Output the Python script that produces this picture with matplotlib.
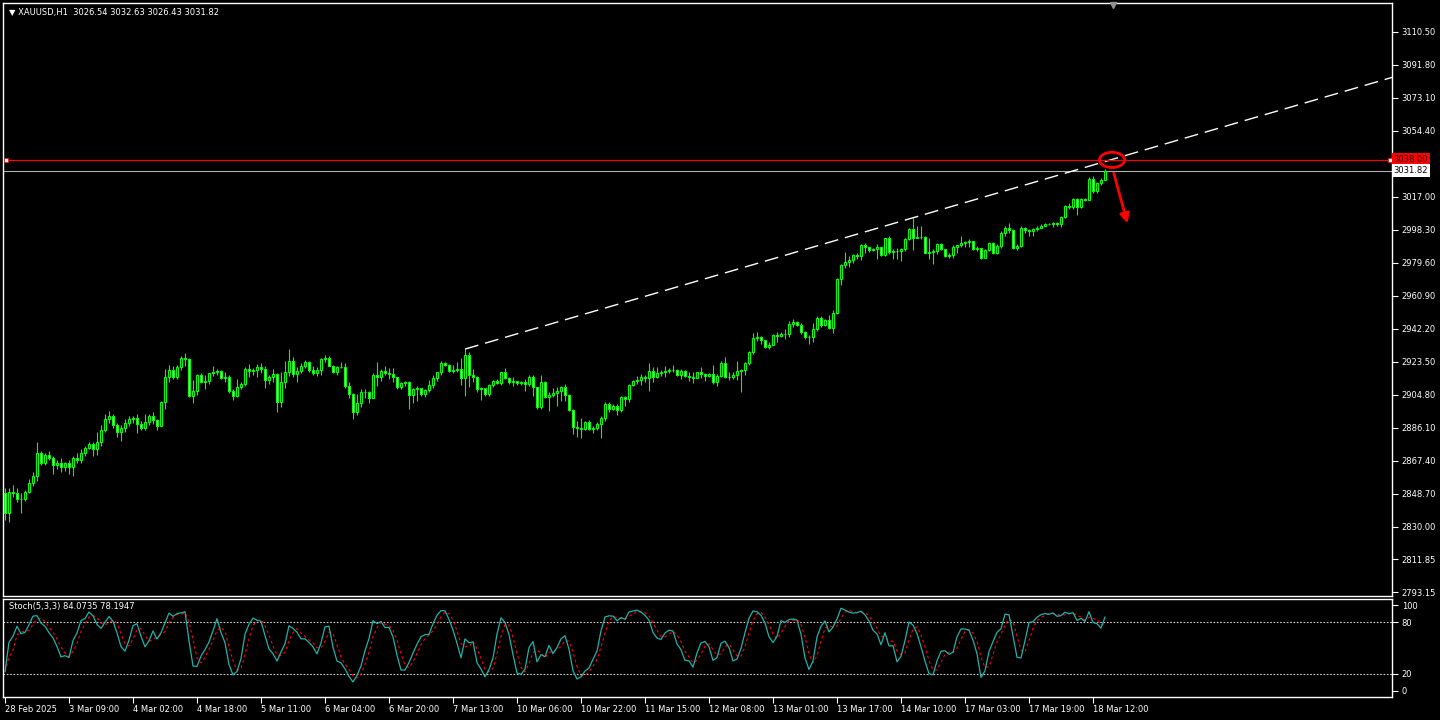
import numpy as np
import pandas as pd
import matplotlib
matplotlib.use("Agg")
import matplotlib.pyplot as plt
from matplotlib.patches import Ellipse, FancyArrowPatch
import matplotlib.transforms as mtransforms

plt.rcParams['font.family'] = ['DejaVu Sans']

symbol_title = "\u25bc XAUUSD,H1  3026.54 3032.63 3026.43 3031.82"
stoch_title = "Stoch(5,3,3) 84.0735 78.1947"

first_open = 2849.0
close = [2838, 2850, 2849, 2846, 2846, 2850, 2855, 2859, 2872, 2866,
         2871, 2869, 2865, 2866, 2864, 2866, 2864, 2869, 2868, 2872,
         2875, 2877, 2874, 2878, 2885, 2891, 2893, 2888, 2884, 2886,
         2889, 2891, 2892, 2888.5, 2886, 2889.5, 2892.8, 2890.5, 2887.5, 2901,
         2914.8, 2919, 2915.2, 2920.8, 2925.7, 2925, 2904, 2907.3, 2916, 2912,
         2912.5, 2917, 2917.7, 2918.2, 2914.5, 2915.2, 2907.3, 2904.5, 2909.5, 2911,
         2919.5, 2918.3, 2919, 2920.8, 2919.5, 2913.5, 2915, 2916.7, 2900.7, 2912.4,
         2917.6, 2924.2, 2916.7, 2918.6, 2921.4, 2923.3, 2919, 2917, 2919, 2925.2,
         2926, 2921.4, 2917.7, 2920.5, 2920.8, 2910.1, 2905.4, 2895, 2900.3, 2906.4,
         2906.7, 2903, 2916.2, 2915, 2918.6, 2917.5, 2916.5, 2914.8, 2909.2, 2911.6,
         2912.4, 2904.8, 2908.2, 2909, 2905.4, 2907.8, 2910.5, 2914.4, 2917.7, 2922.9,
         2922, 2918.2, 2919, 2919.5, 2914.3, 2927.4, 2916.1, 2915, 2908.2, 2908.6,
         2905.4, 2910.5, 2912.9, 2911.5, 2917.6, 2914.5, 2912, 2912.5, 2911.5, 2912,
         2911, 2915, 2909.2, 2897.9, 2912.4, 2903.5, 2905, 2906.2, 2907.3, 2909.2,
         2905, 2896.4, 2886.6, 2886.3, 2885.8, 2889.4, 2885.3, 2886, 2888.1, 2891.7,
         2899.8, 2896.9, 2898.8, 2896.4, 2903.5, 2902.6, 2910.5, 2912.6, 2913.4, 2914.8,
         2914.2, 2918.6, 2914.8, 2917.3, 2917.9, 2918.3, 2919, 2918.8, 2916.3, 2918.6,
         2915.8, 2915, 2914.5, 2917.6, 2916.5, 2915.5, 2916.5, 2912.4, 2915.8, 2922.9,
         2915.2, 2914.8, 2916.3, 2918.6, 2919, 2922.9, 2929.3, 2936.9, 2937.5, 2936,
         2932.2, 2933, 2938.7, 2938.4, 2939.4, 2939.3, 2945, 2946.3, 2944.5, 2940.6,
         2937.4, 2937.8, 2942.1, 2948.3, 2944.6, 2947.4, 2942.7, 2951.2, 2970.4, 2978.3,
         2980.4, 2981.3, 2983.9, 2983.6, 2989.6, 2988.7, 2987, 2987.3, 2988.5, 2984.1,
         2993.5, 2985.8, 2986.2, 2986.5, 2987.7, 2993.3, 2999, 2994, 2994.5, 2994.2,
         2985.5, 2986, 2986.3, 2990.5, 2987.3, 2983.6, 2984.3, 2988.6, 2989.6, 2990.8,
         2991.3, 2991.8, 2987.7, 2988, 2982.6, 2986.9, 2991.1, 2985.4, 2989.2, 2996.7,
         2999.6, 2998.5, 2987.9, 2989.2, 2999.6, 2998.5, 2997.5, 2998.6, 2999.6, 3000.6,
         3001.5, 3001.8, 3002.4, 3001.8, 3005.8, 3011.8, 3011.3, 3015.6, 3011.5, 3015.6,
         3015.2, 3027.3, 3020.3, 3025, 3026.54, 3031.82]
high = [2852, 2852, 2854, 2852, 2849, 2851, 2857, 2861, 2878, 2873,
        2872, 2873, 2870, 2868, 2869, 2867, 2868, 2870, 2872, 2874,
        2876, 2878, 2878, 2884, 2888, 2894, 2896, 2894, 2889, 2888,
        2891, 2893, 2893, 2894, 2890, 2894, 2894, 2895, 2891.3, 2901.6,
        2919.5, 2921.8, 2921, 2922, 2927, 2928.6, 2926, 2913.5, 2916.5, 2917,
        2916, 2917.5, 2921.4, 2919.5, 2919, 2918, 2916, 2908, 2914, 2912,
        2920.5, 2922.5, 2920, 2922.5, 2923, 2921, 2916, 2919.5, 2917.5, 2917.6,
        2924.2, 2930.8, 2926.1, 2920.5, 2923, 2924.5, 2924, 2921, 2920.5, 2926,
        2927.4, 2927, 2922, 2921, 2923.3, 2923, 2912, 2906, 2905.4, 2908,
        2908, 2907, 2917, 2923.3, 2919.5, 2921, 2920, 2920, 2915, 2912,
        2913, 2912.5, 2909, 2910, 2909, 2908, 2913.5, 2916.1, 2918, 2924,
        2923.7, 2922.5, 2922, 2923.3, 2926, 2930.8, 2929, 2919.5, 2915.8, 2909.2,
        2909, 2911, 2913.5, 2914, 2918, 2920, 2915, 2914.8, 2913, 2913,
        2914, 2916, 2916.1, 2908.6, 2916.1, 2913, 2906.4, 2908.5, 2909.2, 2910.1,
        2911, 2905.5, 2897, 2890.3, 2891.7, 2890, 2890.7, 2887.5, 2889.4, 2892.8,
        2901.1, 2900.7, 2899.5, 2899.8, 2904.5, 2904.5, 2911, 2913.5, 2915.4, 2916.7,
        2916.1, 2922.9, 2920.5, 2920.5, 2919, 2921, 2920, 2921.8, 2919.5, 2919.5,
        2918.8, 2917.6, 2917.6, 2918, 2920.5, 2917, 2917.5, 2921.8, 2916.7, 2924,
        2926.1, 2917.6, 2917.6, 2924.2, 2919.5, 2923.5, 2930, 2939.9, 2940.6, 2938.4,
        2936, 2935, 2939.2, 2940.6, 2940.5, 2942.1, 2946.8, 2947.8, 2946.6, 2945.5,
        2941, 2938.8, 2945.5, 2949.7, 2949.7, 2948, 2950, 2952.9, 2971, 2978.9,
        2985.8, 2983.6, 2984.5, 2985.4, 2990.2, 2991.1, 2988.8, 2988, 2990.5, 2988.8,
        2994, 2994.9, 2987.7, 2988.3, 2987.9, 2993.8, 2999.5, 3005.2, 3000.5, 3000.5,
        2995, 2994, 2987.3, 2991, 2991.1, 2987.3, 2985.4, 2989.6, 2990, 2994.9,
        2992, 2993, 2991.8, 2989.2, 2988, 2987.3, 2991.5, 2991.2, 2990.2, 2997.7,
        3000.5, 3002, 2999, 2990.2, 3000.3, 3000.1, 2998.8, 2999.5, 3000.5, 3001.5,
        3002.2, 3002.5, 3002.8, 3002.6, 3006.2, 3012.2, 3013.7, 3016.5, 3016.5, 3016.2,
        3016.5, 3028.4, 3028.8, 3025.5, 3028, 3032.63]
low = [2834, 2833, 2847, 2844, 2838, 2845, 2849, 2853, 2856, 2865,
       2865, 2868, 2860, 2863, 2861, 2862, 2860, 2859, 2866, 2866,
       2870, 2874, 2870, 2871, 2876, 2884, 2889, 2886, 2881, 2879,
       2884, 2887, 2889, 2883, 2885, 2885, 2888, 2888.5, 2884.7, 2887.5,
       2897, 2912.4, 2914, 2914, 2919, 2921.4, 2903.5, 2900.3, 2905, 2911.5,
       2908, 2911, 2915.8, 2916, 2914, 2912.4, 2906, 2902, 2903.5, 2908,
       2910, 2915, 2916, 2915, 2917, 2909, 2911, 2912, 2895, 2897.9,
       2908.6, 2915.8, 2914.8, 2912, 2917, 2920, 2918, 2916, 2915.8, 2916,
       2923.7, 2921, 2917, 2916, 2919.9, 2909, 2903, 2891.3, 2893.2, 2898,
       2903, 2900, 2903, 2910.1, 2913, 2916, 2914, 2912, 2908, 2908,
       2910, 2897, 2900, 2901.6, 2904, 2903.5, 2906.3, 2908.6, 2913, 2916,
       2921, 2918, 2917, 2918, 2910.5, 2904.5, 2909.2, 2912.4, 2906.3, 2902.2,
       2904, 2904, 2909.5, 2911, 2910.5, 2914, 2911, 2910.1, 2910.5, 2910.6,
       2907.3, 2910, 2904.5, 2897, 2897, 2903, 2896, 2903.5, 2898.8, 2901.6,
       2901.6, 2895.5, 2882.8, 2880.9, 2880.4, 2885.2, 2884.7, 2883.4, 2884.7, 2880.6,
       2890.2, 2895, 2896.5, 2893.2, 2895, 2898.4, 2901.1, 2910, 2911, 2910.5,
       2912, 2907.3, 2912.4, 2914.2, 2915.8, 2914.8, 2917.5, 2917.6, 2915.5, 2913.9,
       2915, 2913, 2911.6, 2914.5, 2914.3, 2912.9, 2915, 2911.1, 2909.7, 2915,
       2914.3, 2913.5, 2913.9, 2913.5, 2906.7, 2916, 2922, 2928, 2935.5, 2933.6,
       2931.5, 2930.8, 2933.6, 2935, 2937.5, 2936.5, 2937.4, 2943.6, 2944, 2939.5,
       2936.5, 2933.7, 2935, 2941.2, 2943.6, 2944, 2942.1, 2939.7, 2950.6, 2967,
       2977, 2977.3, 2979.4, 2981.7, 2981.3, 2985.4, 2985.8, 2986.3, 2981.7, 2983.5,
       2983.5, 2984.5, 2981.7, 2981.7, 2980.7, 2986.6, 2992.5, 2987, 2993.5, 2993.3,
       2985, 2981.7, 2978.9, 2984.5, 2986.8, 2983, 2982.6, 2982.6, 2985.4, 2988.8,
       2988.8, 2988.8, 2987.2, 2986.4, 2982, 2982.6, 2986.4, 2984.9, 2984.5, 2988.3,
       2994.9, 2996.7, 2987.3, 2987, 2988.7, 2996.4, 2994.9, 2994.8, 2997.7, 2999.4,
       3000.6, 3001, 2999.9, 3000.6, 3000.1, 3004.9, 3009.9, 3009.9, 3006.5, 3011,
       3014.5, 3016.5, 3019.4, 3019.5, 3024, 3026.43]

price_ticks = ["3110.50", "3091.80", "3073.10", "3054.40", "3017.00", "2998.30",
               "2979.60", "2960.90", "2942.20", "2923.50", "2904.80", "2886.10",
               "2867.40", "2848.70", "2830.00", "2811.85", "2793.15"]
time_labels = ["28 Feb 2025", "3 Mar 09:00", "4 Mar 02:00", "4 Mar 18:00", "5 Mar 11:00",
               "6 Mar 04:00", "6 Mar 20:00", "7 Mar 13:00", "10 Mar 06:00", "10 Mar 22:00",
               "11 Mar 15:00", "12 Mar 08:00", "13 Mar 01:00", "13 Mar 17:00", "14 Mar 10:00",
               "17 Mar 03:00", "17 Mar 19:00", "18 Mar 12:00"]
time_label_step = 16
level_price = 3038.00
bid_price = 3031.82
trend_anchor_bars = [115, 227]
trend_anchor_prices = [2930.8, 3005.2]
stoch_levels = [20, 80]

# ---- derived ----
C = np.array(close, float)
H = np.array(high, float)
L = np.array(low, float)
O = np.concatenate([[first_open], C[:-1]])
H = np.maximum(H, np.maximum(O, C))
L = np.minimum(L, np.minimum(O, C))
n = len(C)
x = np.arange(n)

hh = pd.Series(H).rolling(5, min_periods=1).max()
ll = pd.Series(L).rolling(5, min_periods=1).min()
num = (pd.Series(C) - ll).rolling(3, min_periods=1).sum()
den = (hh - ll).rolling(3, min_periods=1).sum()
k_main = (100 * num / den).values
d_sig = pd.Series(k_main).rolling(3, min_periods=1).mean().values

FS = 6.0
W, Hpx = 1440, 720
fig = plt.figure(figsize=(14.4, 7.2), dpi=100, facecolor='black')
ax = fig.add_axes([3 / W, 1 - 596 / Hpx, (1392 - 3) / W, (596 - 3) / Hpx], facecolor='black')
ax2 = fig.add_axes([3 / W, 1 - 697 / Hpx, (1392 - 3) / W, (697 - 599) / Hpx], facecolor='black')

xlim = (-0.5, 346.75)
ax.set_xlim(*xlim)
ax.set_ylim(2790.9, 3126.9)

# candles
up = C >= O
green = '#00ff00'
ax.vlines(x, L, H, color=green, lw=0.8, zorder=2)
body_h = np.where(np.abs(C - O) < 0.05, 0.05, C - O)
ax.bar(x[up], body_h[up], bottom=O[up], width=0.5, color='black', edgecolor=green, linewidth=0.8, zorder=3)
ax.bar(x[~up], body_h[~up], bottom=O[~up], width=0.5, color='#f0fff0', edgecolor=green, linewidth=0.8, zorder=3)

# trend line (extended to the right edge)
slope = (trend_anchor_prices[1] - trend_anchor_prices[0]) / (trend_anchor_bars[1] - trend_anchor_bars[0])
tx = np.array([trend_anchor_bars[0], xlim[1]])
ty = trend_anchor_prices[0] + slope * (tx - trend_anchor_bars[0])
ax.plot(tx, ty, color='white', lw=1.0, dashes=(10, 5), zorder=4)

# horizontal level and bid line
ax.plot([0.25, 346.25], [level_price, level_price], color='red', lw=0.9, zorder=4)
ax.plot([0.25, 346.25], [level_price, level_price], ls='none', marker='s', ms=3,
        mfc='white', mec='red', mew=0.5, zorder=5)
ax.axhline(bid_price, color='#b0b0b0', lw=0.8, zorder=1)

# ellipse and arrow annotation
ax.add_patch(Ellipse((276.75, level_price), 6.3, 8.6, fill=False, ec='red', lw=2.0, zorder=6))
ax.add_patch(FancyArrowPatch((277.0, 3032.0), (280.8, 3000.5), arrowstyle='-|>',
                             mutation_scale=14, color='red', lw=2.0, zorder=6))

# price axis on the right
ax.yaxis.tick_right()
ax.set_yticks([float(v) for v in price_ticks])
ax.set_yticklabels(price_ticks)
ax.tick_params(axis='y', colors='white', labelsize=FS, length=4, width=0.8, pad=3, direction='out')
ax.set_xticks([])
for s in ax.spines.values():
    s.set_color('white')
    s.set_linewidth(1.0)

trans = mtransforms.blended_transform_factory(ax.transAxes, ax.transData)
ax.text(1.0012, level_price, "3038.00", transform=trans, va='center', ha='left', fontsize=FS,
        color='#300000', bbox=dict(boxstyle='square,pad=0.25', fc='#ff0000', ec='none'), zorder=10, clip_on=False)
ax.text(1.0012, bid_price, "3031.82", transform=trans, va='center', ha='left', fontsize=FS,
        color='black', bbox=dict(boxstyle='square,pad=0.25', fc='white', ec='none'), zorder=10, clip_on=False)

ax.text(0.004, 0.9845, symbol_title, transform=ax.transAxes, color='white', fontsize=FS,
        va='center', ha='left')
ax.plot([277], [3125.5], marker='v', color='#909090', ms=5, clip_on=False, zorder=6)

# stochastic panel
ax2.set_xlim(*xlim)
ax2.set_ylim(-7.3, 107.3)
ax2.plot(x, k_main, color='#20b2aa', lw=0.9, zorder=3)
ax2.plot(x, d_sig, color='red', lw=0.8, dashes=(2.5, 2.5), zorder=2)
for lv in stoch_levels:
    ax2.axhline(lv, color='#d0d0d0', lw=0.8, dashes=(1.5, 1.5), zorder=1)
ax2.yaxis.tick_right()
ax2.set_yticks([100, 80, 20, 0])
ax2.set_yticklabels(['100', '80', '20', '0'])
ax2.tick_params(axis='y', colors='white', labelsize=FS, length=4, width=0.8, pad=3)
ax2.set_xticks(np.arange(len(time_labels)) * time_label_step)
ax2.set_xticklabels(time_labels)
ax2.tick_params(axis='x', colors='white', labelsize=FS, length=4, width=0.8, pad=2)
for lbl in ax2.get_xticklabels():
    lbl.set_ha('left')
for s in ax2.spines.values():
    s.set_color('white')
    s.set_linewidth(1.0)
ax2.text(0.004, 0.92, stoch_title, transform=ax2.transAxes, color='white', fontsize=FS,
         va='center', ha='left')

fig.savefig('out.png', dpi=100, facecolor='black')
